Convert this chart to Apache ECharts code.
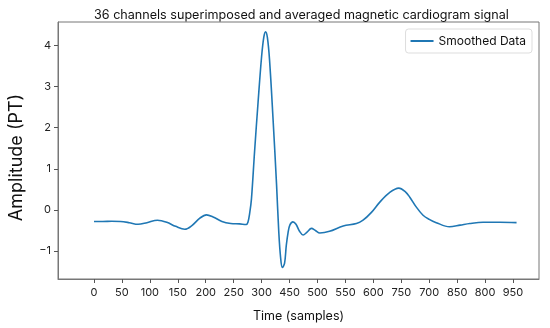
<!DOCTYPE html>
<html><head><meta charset="utf-8">
<script src="https://cdn.jsdelivr.net/npm/echarts@6/dist/echarts.min.js"></script>
<style>html,body{margin:0;padding:0;background:#fff}#c{width:550px;height:328px}</style>
</head><body><div id="c"></div>
<script>
// Sample positions (time, samples) and smoothed amplitude values (PT)
const samples = [0,20,40,60,80,100,120,144,165,185,206,222,240,255,270,290,310,330,345,349,353,357,364,372,380,385,389,393,398,406,414,419,423,427,432,436,440,444,451,458,466,474,483,493,502,512,534,565,595,610,629,648,670,691,705,716,730,746,760,776,806,830,852,882,920,958];
const amplitude = [-0.28,-0.28,-0.275,-0.28,-0.31,-0.35,-0.31,-0.25,-0.30,-0.40,-0.47,-0.38,-0.20,-0.12,-0.17,-0.28,-0.33,-0.34,-0.355,-0.30,-0.08,0.27,1.41,2.62,3.73,4.20,4.33,4.20,3.65,2.20,0.59,-0.55,-1.15,-1.40,-1.30,-0.86,-0.55,-0.37,-0.29,-0.35,-0.52,-0.61,-0.54,-0.45,-0.50,-0.56,-0.52,-0.39,-0.33,-0.25,-0.06,0.19,0.42,0.53,0.45,0.31,0.08,-0.13,-0.23,-0.31,-0.41,-0.37,-0.33,-0.30,-0.30,-0.31];
// X tick labels as printed on the reference (evenly spaced ticks)
const xTickLabels = ['0','50','100','150','200','250','300','450','500','550','600','750','700','850','800','950'];
const yTickValues = [-1,0,1,2,3,4];
const title = '36 channels superimposed and averaged magnetic cardiogram signal';
const seriesName = 'Smoothed Data';

const xTickPos = xTickLabels.map((_, i) => i * 950 / (xTickLabels.length - 1));
const data = samples.map((s, i) => [s, amplitude[i]]);
const font = 'Inter, "Noto Sans", sans-serif';

const chart = echarts.init(document.getElementById('c'), null, {renderer: 'canvas'});
chart.setOption({
  animation: false,
  backgroundColor: '#fff',
  title: {text: title, left: 89, top: 4,
    textStyle: {fontFamily: font, fontSize: 12.6, fontWeight: 'normal', color: '#111'}},
  legend: {right: 18, top: 29, itemWidth: 23, itemHeight: 2, itemGap: 8,
    padding: [6, 6, 6, 5], borderColor: '#ddd', borderWidth: 1, borderRadius: 3,
    backgroundColor: '#fff',
    textStyle: {fontFamily: font, fontSize: 12, color: '#111'},
    data: [{name: seriesName, icon: 'rect'}]},
  grid: {left: 58, right: 11, top: 22, bottom: 47, show: true, borderColor: '#777', borderWidth: 1, backgroundColor: 'transparent'},
  xAxis: {type: 'value', min: -81.6, max: 1008.9,
    name: 'Time (samples)', nameLocation: 'middle', nameGap: 31,
    nameTextStyle: {fontFamily: font, fontSize: 12.5, color: '#111'},
    axisLine: {show: true, onZero: false, lineStyle: {color: '#777'}}, splitLine: {show: false},
    axisTick: {show: true, inside: false, length: 4, lineStyle: {color: '#555'}, customValues: xTickPos},
    axisLabel: {customValues: xTickPos, margin: 8, fontFamily: font, fontSize: 11, color: '#222',
      formatter: v => { let best = 0; xTickPos.forEach((p, i) => { if (Math.abs(p - v) < Math.abs(xTickPos[best] - v)) best = i; }); return xTickLabels[best]; }}},
  yAxis: {type: 'value', min: -1.68, max: 4.57,
    name: 'Amplitude (PT)', nameLocation: 'middle', nameGap: 32, nameRotate: 90,
    nameTextStyle: {fontFamily: font, fontSize: 18, color: '#111', padding: [0, 0, 0, -14]},
    axisLine: {show: true, onZero: false, lineStyle: {color: '#777'}}, splitLine: {show: false},
    axisTick: {show: true, length: 4, lineStyle: {color: '#555'}, customValues: yTickValues},
    axisLabel: {customValues: yTickValues, margin: 7, fontFamily: font, fontSize: 11, color: '#222',
      formatter: v => (v < 0 ? '\u2212' + Math.abs(v) : String(v))}},
  series: [{name: seriesName, type: 'line', data: data, smooth: 0.35, showSymbol: false,
    lineStyle: {color: '#1f77b4', width: 1.6}, itemStyle: {color: '#1f77b4'}}]
});
</script></body></html>
